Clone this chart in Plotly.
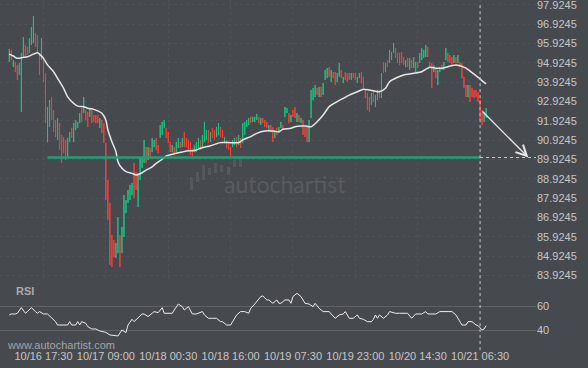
import plotly.graph_objects as go

# ---------------- data ----------------
bar_index = list(range(238))

open_p = [
    94.96, 95.58, 94.70, 94.96, 94.81, 94.29, 92.37, 95.17, 95.84, 95.74,
    95.43, 95.84, 95.94, 96.46, 96.36, 95.43, 95.06, 95.22, 94.39, 90.82,
    91.60, 93.15, 92.48, 91.96, 90.93, 91.80, 91.18, 91.08, 90.93, 90.05,
    90.82, 91.55, 90.82, 91.44, 91.55, 91.80, 92.58, 92.32, 92.48, 92.37,
    92.12, 92.48, 92.22, 92.22, 92.22, 91.55, 91.96, 91.80, 90.77, 88.86,
    87.67, 86.01, 85.75, 84.82, 85.08, 86.01, 85.08, 85.91, 87.15, 87.67,
    87.82, 88.08, 89.74, 89.27, 87.46, 88.86, 89.48, 89.74, 90.56, 89.89,
    90.51, 90.30, 90.56, 91.03, 90.67, 91.03, 91.18, 91.55, 91.55, 91.34,
    90.82, 90.30, 90.56, 90.30, 90.51, 90.82, 90.56, 91.34, 91.03, 90.93,
    90.82, 90.51, 90.30, 90.30, 90.51, 90.93, 90.56, 90.82, 90.93, 91.44,
    90.82, 91.55, 91.44, 91.08, 91.18, 91.60, 91.44, 90.77, 90.93, 90.82,
    90.56, 90.56, 90.67, 91.08, 90.67, 91.03, 90.77, 91.18, 91.60, 91.70,
    92.12, 91.86, 91.86, 91.96, 92.12, 91.70, 92.06, 91.96, 91.86, 91.34,
    91.70, 91.60, 91.03, 91.55, 91.29, 91.55, 91.70, 92.12, 92.32, 92.32,
    91.86, 92.48, 92.63, 91.86, 92.22, 91.80, 91.96, 91.60, 91.60, 90.82,
    92.06, 92.99, 93.15, 93.62, 93.15, 93.67, 93.25, 94.03, 94.13, 94.70,
    93.93, 94.44, 94.44, 93.93, 94.19, 94.55, 93.87, 94.44, 94.39, 94.39,
    94.03, 94.39, 94.39, 93.87, 94.13, 94.44, 94.19, 93.51, 93.36, 93.15,
    92.74, 93.51, 92.63, 92.99, 93.51, 93.10, 94.96, 94.44, 95.06, 94.91,
    95.06, 95.43, 95.68, 95.43, 95.43, 95.48, 95.22, 94.70, 95.17, 94.55,
    95.06, 94.65, 94.44, 94.96, 94.91, 95.06, 95.17, 95.22, 95.74, 94.96,
    94.91, 94.44, 94.65, 93.77, 94.44, 94.81, 94.55, 95.06, 95.43, 95.32,
    95.22, 94.91, 95.22, 94.91, 94.96, 94.91, 94.19, 93.77, 93.15, 93.77,
    93.62, 93.51, 93.51, 93.41, 92.99, 92.48, 91.86, 92.06,
]

close_p = [
    95.63, 95.06, 95.06, 94.44, 94.03, 94.91, 95.43, 96.25, 95.22, 95.32,
    96.20, 96.77, 97.34, 95.74, 95.43, 94.29, 96.20, 93.93, 91.80, 92.63,
    92.99, 91.96, 91.34, 91.08, 92.06, 90.41, 89.74, 90.25, 89.89, 91.03,
    91.34, 91.03, 91.80, 91.96, 91.86, 92.32, 91.86, 93.15, 91.96, 91.60,
    92.58, 91.80, 91.86, 91.80, 91.80, 92.06, 91.29, 90.77, 87.82, 86.79,
    84.46, 84.36, 84.87, 85.60, 86.94, 84.36, 86.43, 88.08, 87.82, 88.34,
    88.60, 88.70, 87.93, 88.34, 89.22, 89.99, 90.05, 90.93, 89.74, 90.56,
    89.99, 91.03, 90.93, 90.41, 90.25, 91.70, 91.86, 91.96, 91.03, 90.77,
    90.30, 90.67, 90.15, 90.82, 91.03, 90.51, 91.03, 90.56, 90.56, 90.41,
    90.15, 90.05, 90.67, 90.82, 91.03, 90.41, 91.18, 91.86, 91.44, 90.77,
    91.34, 91.03, 90.93, 91.60, 91.80, 91.08, 91.03, 91.08, 90.51, 90.41,
    90.05, 90.93, 91.03, 90.56, 91.18, 90.51, 91.80, 91.86, 91.96, 92.06,
    91.80, 92.12, 92.12, 92.27, 91.80, 92.06, 91.80, 91.60, 91.55, 91.70,
    91.34, 90.82, 91.44, 91.18, 91.60, 91.86, 91.44, 92.63, 92.58, 91.80,
    92.22, 92.12, 92.06, 92.32, 91.86, 92.06, 91.18, 91.08, 90.82, 91.96,
    93.51, 93.62, 93.77, 93.25, 93.67, 93.15, 93.87, 94.55, 94.65, 94.19,
    94.55, 94.13, 93.77, 94.39, 94.91, 94.13, 94.19, 94.03, 93.93, 94.03,
    94.39, 94.13, 94.03, 94.19, 94.39, 93.87, 93.62, 93.10, 92.48, 92.37,
    93.36, 92.89, 93.25, 93.51, 93.10, 94.39, 94.39, 94.91, 94.70, 95.58,
    95.48, 95.94, 95.17, 94.91, 94.81, 94.91, 94.81, 95.06, 94.70, 95.17,
    94.65, 95.22, 94.96, 94.65, 95.43, 95.68, 95.58, 95.84, 95.22, 94.65,
    93.62, 94.81, 94.13, 94.55, 94.70, 94.55, 94.96, 95.68, 94.96, 94.91,
    94.81, 95.32, 94.91, 95.32, 94.70, 94.13, 93.62, 93.15, 93.77, 92.89,
    93.15, 93.10, 93.15, 92.89, 91.96, 91.70, 92.37, 92.58,
]

high_p = [max(o, c) for o, c in zip(open_p, close_p)]
low_p = [min(o, c) for o, c in zip(open_p, close_p)]

ma_bar = [0, 2, 4, 7, 9, 12, 14, 15, 17, 19, 22, 24, 27, 29, 32, 34, 37, 39, 42, 44,
          46, 48, 49, 51, 53, 54, 56, 58, 61, 63, 66, 68, 71, 73, 76, 78, 81, 83, 86, 88,
          91, 93, 95, 100, 105, 110, 114, 116, 120, 123, 127, 131, 134, 136, 140, 142, 145, 147, 150, 153,
          156, 159, 163, 166, 169, 173, 176, 179, 184, 187, 189, 193, 196, 201, 205, 209, 212, 215, 218, 222,
          224, 227, 230, 233, 237]
ma_val = [95.37, 95.27, 95.15, 95.20, 95.23, 95.37, 95.44, 95.37, 95.15, 94.81,
          94.46, 94.12, 93.60, 93.16, 92.82, 92.68, 92.65, 92.57, 92.51, 92.43,
          92.31, 91.96, 91.44, 90.84, 90.32, 89.80, 89.46, 89.29, 89.20, 89.11,
          89.23, 89.37, 89.54, 89.72, 89.93, 90.10, 90.19, 90.24, 90.30, 90.36,
          90.37, 90.41, 90.50, 90.63, 90.79, 90.79, 90.79, 90.93, 91.10, 91.27,
          91.39, 91.39, 91.35, 91.48, 91.53, 91.61, 91.65, 91.65, 91.61, 91.87,
          92.22, 92.65, 92.91, 93.08, 93.25, 93.42, 93.55, 93.51, 93.42, 93.60,
          93.94, 94.17, 94.29, 94.38, 94.46, 94.69, 94.64, 94.64, 94.72, 94.81,
          94.77, 94.64, 94.41, 94.17, 93.83]

rsi_bar = [0, 1, 3, 4, 6, 8, 9, 11, 13, 14, 15, 17, 19, 21, 23, 24, 27, 29, 30, 31,
           33, 34, 35, 36, 38, 39, 41, 43, 45, 47, 48, 50, 53, 54, 56, 58, 59, 61, 62, 64,
           66, 67, 69, 71, 72, 74, 76, 77, 81, 82, 84, 86, 87, 89, 91, 93, 96, 97, 99, 101,
           103, 105, 106, 108, 110, 111, 113, 115, 117, 119, 120, 122, 125, 126, 128, 129, 131, 133, 134, 135,
           137, 139, 140, 141, 143, 145, 147, 149, 151, 152, 154, 156, 159, 160, 162, 164, 166, 167, 169, 171,
           173, 174, 176, 178, 180, 181, 182, 183, 184, 186, 188, 189, 192, 194, 198, 200, 202, 205, 207, 208,
           212, 214, 218, 220, 222, 223, 225, 227, 228, 230, 232, 233, 235, 236, 237]
rsi_val = [52.8, 53.6, 53.6, 54.2, 58.9, 54.2, 55.6, 58.9, 55.6, 54.2, 55.6, 53.6, 53.6, 50.0, 47.2, 44.4, 44.4, 44.4, 47.2, 44.4,
           44.4, 47.2, 44.4, 47.2, 45.8, 43.1, 41.1, 41.1, 39.4, 38.9, 38.3, 36.1, 35.3, 35.3, 40.3, 38.1, 44.4, 49.2, 47.2, 50.0,
           53.6, 53.6, 51.4, 54.2, 55.6, 54.7, 58.9, 54.2, 54.2, 56.9, 61.9, 59.7, 56.9, 59.7, 53.6, 53.6, 55.6, 52.8, 50.0, 50.0,
           50.0, 47.2, 47.2, 44.4, 44.4, 47.2, 52.8, 55.6, 55.6, 54.2, 58.3, 61.9, 68.1, 68.6, 65.3, 65.3, 62.5, 65.3, 62.5, 62.5,
           65.3, 65.3, 62.5, 68.1, 70.8, 68.1, 62.5, 61.9, 59.7, 62.5, 58.3, 55.6, 55.6, 53.6, 50.0, 52.8, 53.6, 55.6, 50.0, 50.0,
           52.8, 50.0, 49.2, 47.2, 47.2, 49.2, 52.8, 50.0, 52.8, 50.0, 52.8, 55.6, 54.2, 54.2, 54.2, 50.0, 53.6, 53.6, 55.6, 53.6,
           53.6, 55.6, 55.6, 55.6, 52.8, 50.0, 44.4, 44.4, 47.2, 47.2, 44.4, 43.9, 40.3, 41.1, 43.9]

date_ticks = [17, 48, 79, 110, 141, 172, 203, 234]
date_labels = ["10/16 17:30", "10/17 09:00", "10/18 00:30", "10/18 16:00",
               "10/19 07:30", "10/19 23:00", "10/20 14:30", "10/21 06:30"]
price_ticks = [83.9245, 84.9245, 85.9245, 86.9245, 87.9245, 88.9245, 89.9245,
               90.9245, 91.9245, 92.9245, 93.9245, 94.9245, 95.9245, 96.9245, 97.9245]
rsi_ticks = [40, 60]

support_level = 90.02
support_start_bar = 19
current_bar = 234
forecast_start = (234.5, 92.48)
forecast_end = (258, 90.02)

# ---------------- styling ----------------
BG = "#46494e"
UP = "#1cc283"
DOWN = "#f2403c"
TXT = "#c6c6c6"
FONT = "Liberation Sans, Arial, sans-serif"
W, H = 588, 368
ML, MR, MT, MB = 0, 52, 0, 20
PW, PH = W - ML - MR, H - MT - MB
X_RANGE = [-4.62, 261.8]


def px2paper(x, y):
    return x / PW, (PH - y) / PH


fig = go.Figure()

fig.add_trace(go.Candlestick(
    x=bar_index, open=open_p, high=high_p, low=low_p, close=close_p,
    increasing=dict(line=dict(color=UP, width=1), fillcolor=UP),
    decreasing=dict(line=dict(color=DOWN, width=1), fillcolor=DOWN),
    whiskerwidth=0, xaxis="x", yaxis="y", hoverinfo="skip", showlegend=False,
))

fig.add_trace(go.Scatter(
    x=ma_bar, y=ma_val, mode="lines", line=dict(color="#e6e6e6", width=1.5, shape="spline", smoothing=0.6),
    xaxis="x", yaxis="y", hoverinfo="skip", showlegend=False,
))

fig.add_trace(go.Scatter(
    x=[support_start_bar, current_bar], y=[support_level, support_level], mode="lines",
    line=dict(color="#1fa175", width=2.5), xaxis="x", yaxis="y", hoverinfo="skip", showlegend=False,
))

fig.add_trace(go.Scatter(
    x=rsi_bar, y=rsi_val, mode="lines", line=dict(color="#ededed", width=1),
    xaxis="x2", yaxis="y2", hoverinfo="skip", showlegend=False,
))

shapes = []
# dashed vertical "now" line
shapes.append(dict(type="line", xref="x", yref="paper", x0=current_bar, x1=current_bar,
                   y0=-0.006, y1=0.99, line=dict(color="#c8c8c8", width=1, dash="3px,3px")))
# dashed extension of the level
shapes.append(dict(type="line", xref="x", yref="y", x0=current_bar, x1=X_RANGE[1],
                   y0=support_level, y1=support_level, line=dict(color="#c8c8c8", width=1, dash="3px,3px")))

# watermark logo (decoration)
logo = [(190, 193, 177, 190), (196, 199, 172, 182), (202, 205, 165, 180), (208, 211, 168, 175),
        (214, 217, 163, 173), (220, 223, 165, 172), (227, 230, 167, 175), (233, 236, 160, 167),
        (239, 242, 158, 167)]
for x0, x1, y0, y1 in logo:
    a0, b0 = px2paper(x0, y1)
    a1, b1 = px2paper(x1, y0)
    shapes.append(dict(type="rect", xref="paper", yref="paper", x0=a0, x1=a1, y0=b0, y1=b1,
                       line=dict(width=0), fillcolor="#55585d", layer="below"))

annotations = [
    dict(x=forecast_end[0], y=forecast_end[1], ax=forecast_start[0], ay=forecast_start[1],
         xref="x", yref="y", axref="x", ayref="y", text="", showarrow=True,
         arrowhead=5, arrowsize=1.6, arrowwidth=1.3, arrowcolor="#e8e8e8"),
]
wx, wy = px2paper(285, 184)
annotations.append(dict(x=wx, y=wy, xref="paper", yref="paper", text="autochartist", showarrow=False,
                        font=dict(family="Lato, " + FONT, size=23, color="#585b60"), xanchor="center", yanchor="middle"))
rx, ry = px2paper(14, 291)
annotations.append(dict(x=rx, y=ry, xref="paper", yref="paper", text="<b>RSI</b>", showarrow=False,
                        font=dict(family=FONT, size=11, color="#a9abae"), xanchor="left", yanchor="middle"))
ux, uy = px2paper(5, 345)
annotations.append(dict(x=ux, y=uy, xref="paper", yref="paper", text="www.autochartist.com", showarrow=False,
                        font=dict(family=FONT, size=11, color="#a3a5a8"), xanchor="left", yanchor="middle"))

price_bottom_px = 282
rsi_top_px = 284
price_range = [98.168 - price_bottom_px * 0.05173, 98.168]
rsi_range = [40 - (PH - 330.3) / 1.2, 60 + (306.3 - rsi_top_px) / 1.2]

fig.update_layout(
    width=W, height=H, margin=dict(l=ML, r=MR, t=MT, b=MB),
    paper_bgcolor=BG, plot_bgcolor=BG,
    font=dict(family=FONT, size=11, color=TXT),
    showlegend=False, boxgap=0.95, boxgroupgap=0,
    shapes=shapes, annotations=annotations,
    xaxis=dict(domain=[0, 1], range=X_RANGE, anchor="y", showticklabels=False,
               tickvals=date_ticks, showgrid=True, gridcolor="#4e5156", griddash="dot",
               zeroline=False, showline=False, rangeslider=dict(visible=False), fixedrange=True),
    yaxis=dict(domain=[(PH - price_bottom_px) / PH, 1], range=price_range, side="right",
               tickvals=price_ticks, ticktext=[f"{v:.4f}" for v in price_ticks],
               showgrid=True, gridcolor="#4e5156", griddash="dot", zeroline=False, showline=False,
               ticks="", ticklabelstandoff=0, ticklabeloverflow="allow",
               tickfont=dict(size=11, color=TXT)),
    xaxis2=dict(domain=[0, 1], range=X_RANGE, anchor="y2", matches="x",
                tickvals=date_ticks, ticktext=date_labels, showgrid=False, zeroline=False,
                showline=False, ticks="", tickfont=dict(size=11, color=TXT)),
    yaxis2=dict(domain=[0, (PH - rsi_top_px) / PH], range=rsi_range, side="right",
                tickvals=rsi_ticks, showgrid=True, gridcolor="#5e6166", gridwidth=1,
                zeroline=False, showline=False, ticks="", ticklabelstandoff=0,
                tickfont=dict(size=11, color=TXT)),
)

fig.write_html("out.html")
